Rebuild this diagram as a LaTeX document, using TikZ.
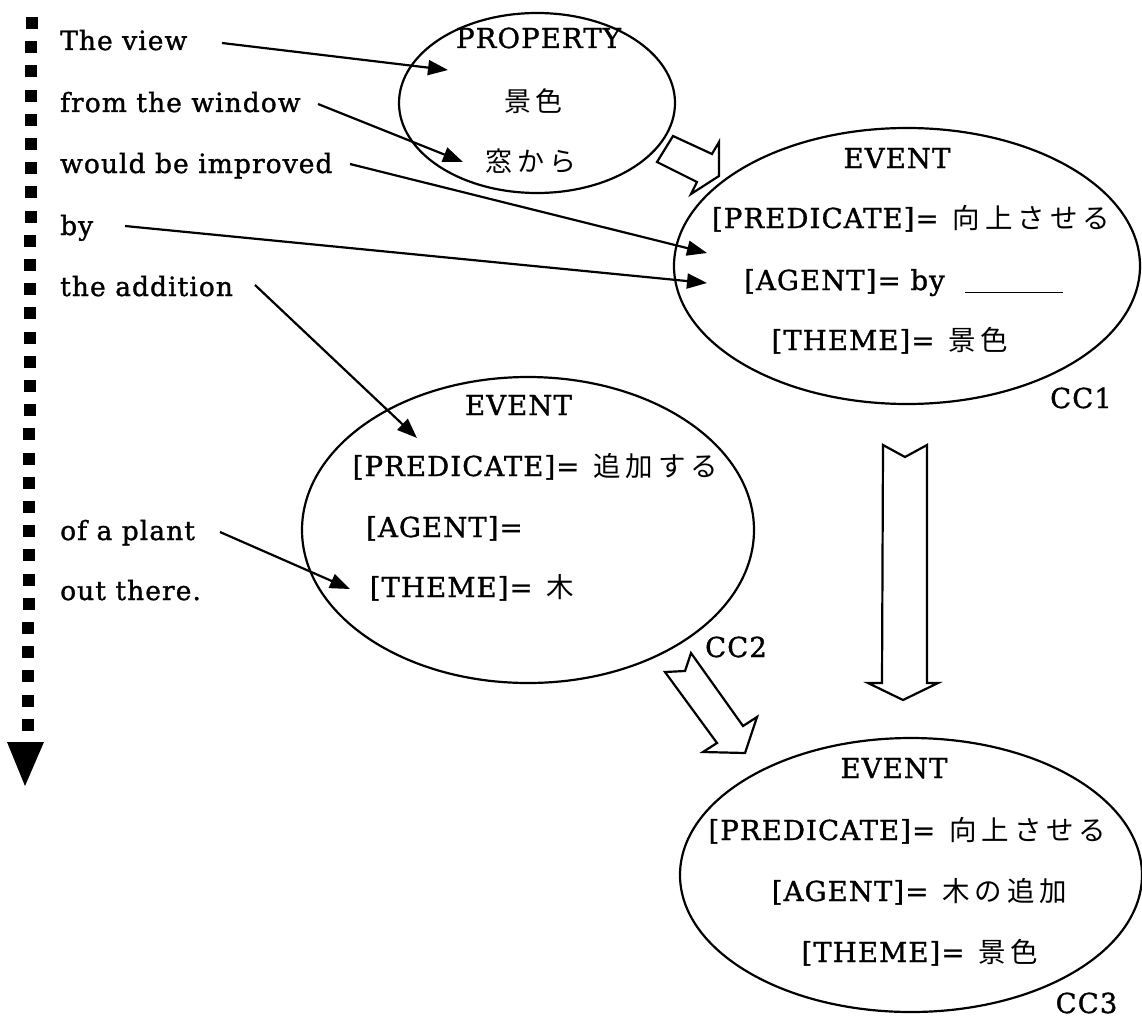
\documentclass[tikz,border=0pt]{standalone}
\usepackage{fontspec}
\setmainfont{DejaVu Serif}[LetterSpace=4,FakeBold=1.2]
\newfontfamily\jp{Noto Sans CJK JP}[LetterSpace=18]
\usetikzlibrary{shapes.geometric,arrows.meta}
\begin{document}
\begin{tikzpicture}[x=1pt,y=-1pt,
  txt/.style={inner sep=0pt, font=\fontsize{27.5}{32}\selectfont},
  lt/.style={inner sep=0pt, font=\fontsize{26.5}{32}\selectfont, anchor=base west},
  ct/.style={txt, anchor=base},
  jt/.style={inner sep=0pt, font=\fontsize{27}{32}\selectfont\jp, anchor=center},
  oval/.style={draw, ellipse, line width=2.2pt, inner sep=0pt},
  ptr/.style={line width=2.2pt, -{Triangle[length=20pt,width=15pt]}},
  hollow/.style={draw, fill=white, line width=2.2pt, line join=miter},
  sq/.style={fill=black}
]
\useasboundingbox (0,0) rectangle (1142,1022);

% time line at the left
\foreach \k in {0,...,29}
  \fill[sq] ({31.5-3.5*\k/29-6},{23+24.2*\k-6}) rectangle +(12,12);
\fill (7,742) -- (44,742) -- (25,786) -- cycle;

% left column
\node[lt] (t1) at (60,50)  {The view};
\node[lt] (t2) at (60,112) {from the window};
\node[lt] (t3) at (60,173) {would be improved};
\node[lt] (t4) at (60,235) {by};
\node[lt] (t5) at (60,296) {the addition};
\node[lt] (t6) at (60,540) {of a plant};
\node[lt] (t7) at (60,600) {out there.};

% ellipses
\node[oval, minimum width=276pt, minimum height=180pt] (prop) at (537,103) {};
\node[oval, minimum width=466pt, minimum height=276pt] (cc1) at (907,266) {};
\node[oval, minimum width=452pt, minimum height=306pt] (cc2) at (528,530) {};
\node[oval, minimum width=462pt, minimum height=274pt] (cc3) at (911,875) {};

% PROPERTY
\node[ct] (pt) at (538.5,48) {PROPERTY};
\node[jt] (pk) at (533.5,101) {景色};
\node[jt] (pm) at (531,161) {窓から};

% CC1
\node[ct] (e1) at (897,168) {EVENT};
\node[ct] (p1) at (911,228) {[PREDICATE]=\hspace{14pt}{\jp 向上させる}};
\node[ct] (a1) at (903.5,290) {[AGENT]= by\hspace{20pt}\rule[-3pt]{98pt}{1.4pt}};
\node[ct] (h1) at (890,350) {[THEME]=\hspace{14pt}{\jp 景色}};
\node[ct] (l1) at (1081,408) {CC1};

% CC2
\node[ct] (e2) at (518.5,415) {EVENT};
\node[ct] (p2) at (535.5,476) {[PREDICATE]=\hspace{14pt}{\jp 追加する}};
\node[ct] (a2) at (444.5,537) {[AGENT]=};
\node[ct] (h2) at (472,597) {[THEME]=\hspace{14pt}{\jp 木}};
\node[ct] (l2) at (736,657) {CC2};

% CC3
\node[ct] (e3) at (894,778) {EVENT};
\node[ct] (p3) at (907.5,840) {[PREDICATE]=\hspace{14pt}{\jp 向上させる}};
\node[ct] (a3) at (919.5,901) {[AGENT]=\hspace{14pt}{\jp 木の追加}};
\node[ct] (h3) at (920,962) {[THEME]=\hspace{14pt}{\jp 景色}};
\node[ct] (l3) at (1086.5,1013) {CC3};

% pointer arrows
\coordinate (s1) at (222,43);  \coordinate (d1) at (448,70);
\coordinate (s2) at (318,104); \coordinate (d2) at (463,162);
\coordinate (s3) at (350,164); \coordinate (d3) at (707,253);
\coordinate (s4) at (125,226); \coordinate (d4) at (707,283);
\coordinate (s5) at (255,285); \coordinate (d5) at (417,438);
\coordinate (s6) at (220,532); \coordinate (d6) at (350,589);
\draw[ptr] (s1) -- (d1);
\draw[ptr] (s2) -- (d2);
\draw[ptr] (s3) -- (d3);
\draw[ptr] (s4) -- (d4);
\draw[ptr] (s5) -- (d5);
\draw[ptr] (s6) -- (d6);

% hollow block arrows
\draw[hollow] (673,136) -- (712,154) -- (719,142) -- (719,176) -- (691,194)
  -- (697,182) -- (657,162) -- cycle;
\draw[hollow] (665,672) -- (685,671) -- (691,653) -- (743,726) -- (757,717)
  -- (745,753) -- (703,752) -- (717,743) -- cycle;
\draw[hollow] (883,445) -- (905,457) -- (927,445) -- (927,683) -- (938,683)
  -- (903,700) -- (868,683) -- (882,683) -- cycle;
\end{tikzpicture}
\end{document}
